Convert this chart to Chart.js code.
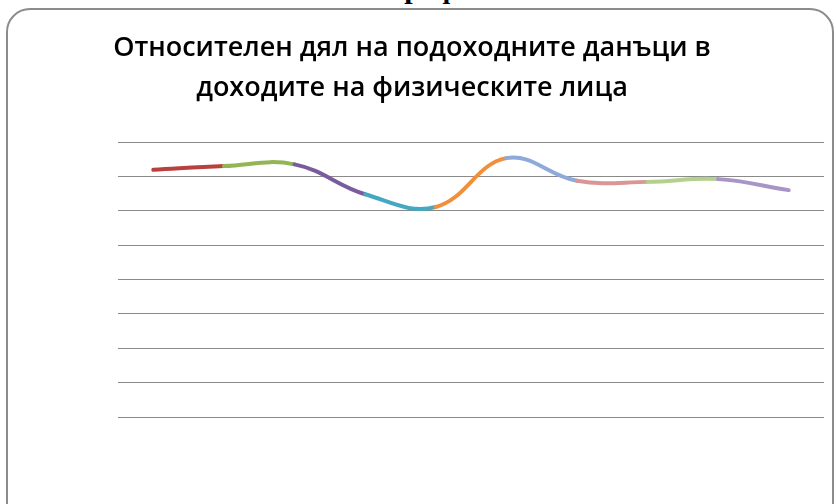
<!DOCTYPE html>
<html>
<head>
<meta charset="utf-8">
<script src="https://cdn.jsdelivr.net/npm/chart.js@4/dist/chart.umd.min.js"></script>
<style>
  html, body { margin: 0; padding: 0; background: #fff; }
  body { width: 836px; height: 504px; position: relative; overflow: hidden; }
  .frame {
    position: absolute; left: 6px; top: 8px; width: 828px; height: 520px;
    border: 2px solid #8c8c8c; border-radius: 24px; box-sizing: border-box;
  }
  .heading {
    position: absolute; top: -27px; left: 387px;
    font: bold 30px "Liberation Serif", serif; line-height: 30px; color: #000;
    white-space: nowrap;
  }
  #chart { position: absolute; left: 0; top: 0; }
</style>
</head>
<body>
<div class="frame"></div>
<div class="heading">Графика</div>
<canvas id="chart" width="836" height="504"></canvas>
<script>
// years on the category axis (not shown) and the tax share, %
var years = ["2000", "2001", "2002", "2003", "2004", "2005", "2006", "2007", "2008", "2009"];
var share = [7.19, 7.30, 7.35, 6.48, 6.11, 7.53, 6.87, 6.84, 6.92, 6.60];
// colour of each segment, one per point the segment ends at
var segColors = ["#b9413d", "#93b553", "#7a5c9e", "#44a8c3", "#f08f3c",
                 "#8eaadb", "#d99694", "#b3d18d", "#a895c5"];
var titleLines = ["Относителен дял на подоходните данъци в", "доходите на физическите лица"];

new Chart("chart", {
  type: "line",
  data: {
    labels: years,
    datasets: [{
      data: share,
      borderWidth: 4,
      tension: 0.4,
      pointRadius: 0,
      borderCapStyle: "round",
      segment: {
        borderColor: function (ctx) { return segColors[ctx.p0DataIndex]; }
      }
    }]
  },
  options: {
    responsive: false,
    animation: false,
    layout: { padding: { left: 0, right: 12, top: 0, bottom: 87 } },
    plugins: {
      legend: { display: false },
      tooltip: { enabled: false },
      title: {
        display: true,
        text: titleLines,
        color: "#000",
        font: { family: "'Open Sans', sans-serif", size: 27, weight: "600", lineHeight: 1.5 },
        padding: { top: 28, bottom: 33 }
      }
    },
    scales: {
      x: { display: false, offset: true },
      y: {
        min: 0, max: 8,
        ticks: { display: false, stepSize: 1 },
        border: { display: false },
        grid: { color: "#8a8a8a", lineWidth: 1, drawTicks: false },
        afterFit: function (scale) { scale.width = 118; }
      }
    }
  }
});
</script>
</body>
</html>
